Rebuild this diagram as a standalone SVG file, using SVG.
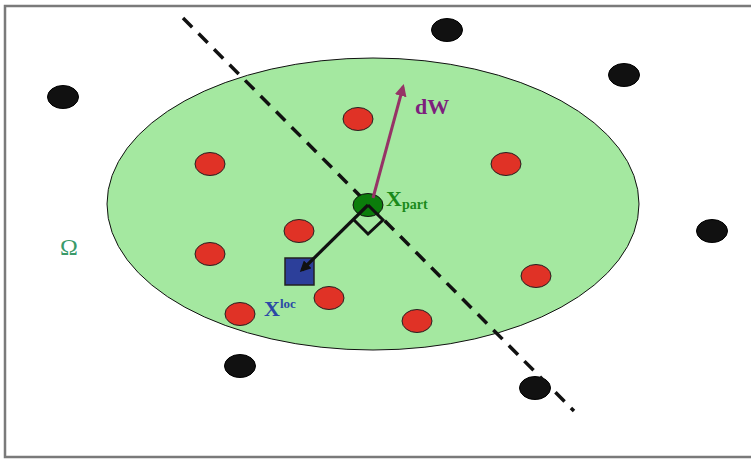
<svg xmlns="http://www.w3.org/2000/svg" width="751" height="459" viewBox="0 0 751 459">
<defs>
<style>
.blk{fill:#111;stroke:#000;stroke-width:1}
.red{fill:#e03226;stroke:#222;stroke-width:1}
.lbl{font-family:"Liberation Serif",serif;font-weight:bold}
</style>
<marker id="ahB" markerWidth="11" markerHeight="11" refX="8" refY="5.5" orient="auto" markerUnits="userSpaceOnUse" viewBox="0 0 11 11"><path d="M0,0 L11,5.5 L0,11 Z" fill="#111"/></marker>
<marker id="ahP" markerWidth="12" markerHeight="12" refX="9" refY="6" orient="auto" markerUnits="userSpaceOnUse" viewBox="0 0 12 12"><path d="M0,0 L12,6 L0,12 Z" fill="#963366"/></marker>
</defs>
<rect x="5" y="6" width="770" height="451" fill="#fff" stroke="#7a7a7a" stroke-width="2.5"/>
<g id="domain">
<ellipse cx="373" cy="204" rx="266" ry="146" fill="#a4e8a0" stroke="#111" stroke-width="1"/>
</g>
<g id="outer-points">
<ellipse class="blk" cx="63" cy="97" rx="15.5" ry="11.5"/>
<ellipse class="blk" cx="447" cy="30" rx="15.5" ry="11.5"/>
<ellipse class="blk" cx="624" cy="75" rx="15.5" ry="11.5"/>
<ellipse class="blk" cx="712" cy="231" rx="15.5" ry="11.5"/>
<ellipse class="blk" cx="240" cy="366" rx="15.5" ry="11.5"/>
<ellipse class="blk" cx="535" cy="388" rx="15.5" ry="11.5"/>
</g>
<g id="inner-points">
<ellipse class="red" cx="358" cy="119" rx="15" ry="11.5"/>
<ellipse class="red" cx="210" cy="164" rx="15" ry="11.5"/>
<ellipse class="red" cx="506" cy="164" rx="15" ry="11.5"/>
<ellipse class="red" cx="299" cy="231" rx="15" ry="11.5"/>
<ellipse class="red" cx="210" cy="254" rx="15" ry="11.5"/>
<ellipse class="red" cx="536" cy="276" rx="15" ry="11.5"/>
<ellipse class="red" cx="240" cy="314" rx="15" ry="11.5"/>
<ellipse class="red" cx="329" cy="298" rx="15" ry="11.5"/>
<ellipse class="red" cx="417" cy="321" rx="15" ry="11.5"/>
</g>
<g id="connectors">
<line x1="183" y1="18" x2="574" y2="411" stroke="#111" stroke-width="3.5" stroke-dasharray="13,9"/>
</g>
<g id="xpart">
<ellipse cx="368" cy="205" rx="15" ry="11.5" fill="#0b7d0b" stroke="#111" stroke-width="1"/>
<path d="M368,205 L383,220 L368,234 L354,220" fill="none" stroke="#111" stroke-width="3"/>
<text class="lbl" x="386" y="206" font-size="22" fill="#1a8a1a">X<tspan font-size="14" dy="3">part</tspan></text>
</g>
<g id="xloc">
<rect x="285" y="258" width="29" height="27" fill="#2c3f9a" stroke="#222" stroke-width="1.5"/>
<text class="lbl" x="264" y="316" font-size="22" fill="#2b48a6">X<tspan font-size="13" dy="-8">loc</tspan></text>
</g>
<g id="arrows">
<line x1="368" y1="205" x2="302" y2="270" stroke="#111" stroke-width="3.2" marker-end="url(#ahB)"/>
<line x1="373" y1="198" x2="403" y2="87" stroke="#963366" stroke-width="3" marker-end="url(#ahP)"/>
</g>
<g id="labels">
<text class="lbl" x="415" y="114" font-size="22" fill="#7d1f7d">dW</text>
<text x="60" y="255" font-family="Liberation Serif,serif" font-size="24" fill="#3a9a6a">Ω</text>
</g>
</svg>
